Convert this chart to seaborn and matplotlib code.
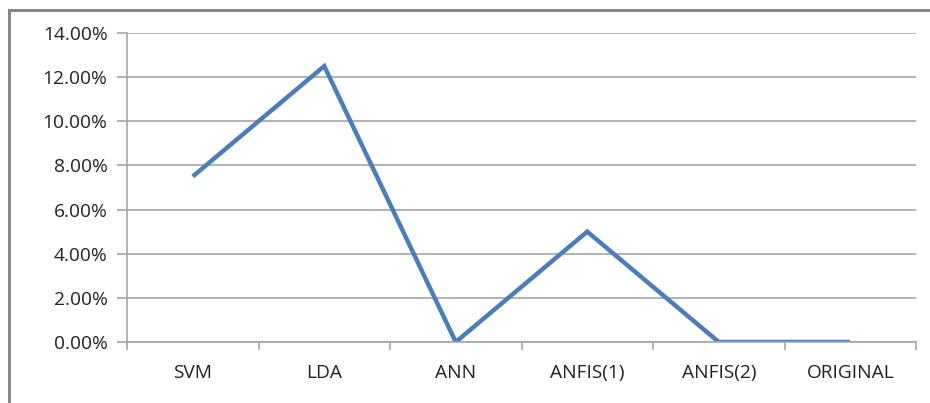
import matplotlib
matplotlib.use("Agg")
import matplotlib.pyplot as plt
import matplotlib.patches as mpatches
from matplotlib.ticker import FuncFormatter, FixedLocator
import seaborn as sns
import pandas as pd
import numpy as np

methods = ["SVM", "LDA", "ANN", "ANFIS(1)", "ANFIS(2)", "ORIGINAL"]
error_rate = [0.075, 0.125, 0.0, 0.05, 0.0, 0.0]
y_ticks = [0.0, 0.02, 0.04, 0.06, 0.08, 0.10, 0.12, 0.14]

df = pd.DataFrame({"pos": np.arange(len(methods)), "method": methods, "rate": error_rate})

sns.set_style("white")
plt.rcParams["font.family"] = ["Open Sans", "DejaVu Sans"]

fig = plt.figure(figsize=(9.30, 4.03), dpi=100)
ax = fig.add_axes([127 / 930, 1 - 342 / 403, (916 - 127) / 930, (342 - 33) / 403])

# outer chart frame (right and bottom edges fall outside the canvas)
fig.patches.append(mpatches.Rectangle((9 / 930, -0.1), 1.1, 1 - 10 / 403 + 0.1,
                                      transform=fig.transFigure, fill=False,
                                      edgecolor="#868686", linewidth=2.2))

sns.lineplot(data=df, x="pos", y="rate", ax=ax, color="#4A7EBB", linewidth=3.2,
             solid_capstyle="butt", solid_joinstyle="miter")

ax.set_xlim(-0.5, len(methods) - 0.5)
ax.set_ylim(0, 0.14)
ax.set_yticks(y_ticks)
ax.yaxis.set_major_formatter(FuncFormatter(lambda v, _: f"{v * 100:.2f}%"))
ax.yaxis.grid(True, color="#A6A6A6", linewidth=1.2)
ax.set_axisbelow(True)

ax.set_xticks(df["pos"])
ax.set_xticklabels(methods)
ax.xaxis.set_minor_locator(FixedLocator(np.arange(-0.5, len(methods), 1.0)))
ax.tick_params(axis="x", which="major", length=0, pad=16, labelsize=13.8, colors="#222222")
ax.tick_params(axis="x", which="minor", length=6, width=1.2, color="#A6A6A6", direction="out")
ax.tick_params(axis="y", which="major", length=7, width=1.2, color="#A6A6A6", direction="out",
               pad=7, labelsize=13.8, labelcolor="#222222")
ax.xaxis.set_ticks_position("bottom")
ax.yaxis.set_ticks_position("left")

for side in ["top", "right"]:
    ax.spines[side].set_visible(False)
for side in ["left", "bottom"]:
    ax.spines[side].set_color("#A6A6A6")
    ax.spines[side].set_linewidth(1.2)

ax.set_xlabel("")
ax.set_ylabel("")

fig.savefig("out.png", dpi=100)
